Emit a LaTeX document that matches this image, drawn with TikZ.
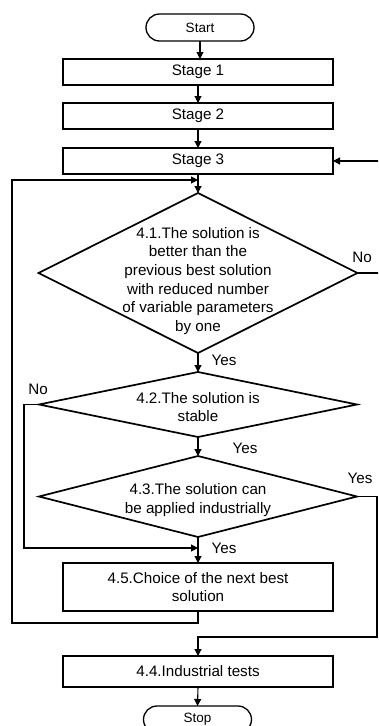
\documentclass[tikz,border=0pt]{standalone}
\usepackage{fontspec}
\setmainfont{Liberation Sans}
\usetikzlibrary{shapes.geometric,shapes.misc,arrows.meta}
\begin{document}
\begin{tikzpicture}[x=1pt,y=-1pt,
  txt/.style={font=\fontsize{15.2}{18.7}\selectfont},
  term/.style={draw, line width=1.3pt, rounded rectangle, minimum width=108pt,
    minimum height=27pt, inner sep=0pt, outer sep=0pt,
    font=\fontsize{13.5}{16}\selectfont},
  stepbox/.style={draw, line width=1.9pt, rectangle, minimum width=270pt,
    inner sep=0pt, outer sep=0pt, align=center, txt},
  decision/.style={draw, line width=1.7pt, diamond, inner sep=0pt, outer sep=0pt},
  flow/.style={line width=1.1pt, -{Triangle[length=7pt,width=7pt]}},
  lbl/.style={txt, inner sep=0pt}
]
\useasboundingbox (0,0) rectangle (378,726);
\clip (0,0) rectangle (378,726);

% terminals and process boxes
\node[term] (start) at (200,27.5) {Start};
\node[stepbox, minimum height=26pt] (s1) at (198,72) {Stage 1};
\node[stepbox, minimum height=26pt] (s2) at (198,116) {Stage 2};
\node[stepbox, minimum height=26pt] (s3) at (198,161) {Stage 3};

% decisions (shape and text kept apart)
\node[decision, minimum width=319pt, minimum height=160pt] (d41) at (198,273) {};
\node[txt, align=center, inner sep=0pt] (t41) at (198,281)
  {4.1.The solution is\\better than the\\previous best solution\\with reduced number\\of variable parameters\\by one};
\node[decision, minimum width=318pt, minimum height=65pt] (d42) at (198,404.5) {};
\node[txt, align=center, inner sep=0pt] (t42) at (198,407)
  {4.2.The solution is\\stable};
\node[decision, minimum width=318pt, minimum height=81pt] (d43) at (198,496.5) {};
\node[txt, align=center, inner sep=0pt] (t43) at (198,500)
  {4.3.The solution can\\be applied industrially};

\node[stepbox, minimum height=48pt] (b45) at (198,587) {4.5.Choice of the next best\\solution};
\node[stepbox, minimum height=31pt] (b44) at (198,671.5) {4.4.Industrial tests};
\node[term] (stop) at (197.5,719.5) {Stop};

% junction points on the main vertical line
\coordinate (j1) at (198,180);
\coordinate (j2) at (198,548);

% main flow
\draw[flow] (start.south) -- (start.south |- s1.north);
\draw[flow] (s1.south) -- (s2.north);
\draw[flow] (s2.south) -- (s3.north);
\draw[flow] (s3.south) -- (d41.north);
\draw[flow] (d41.south) -- (d42.north);
\draw[flow] (d42.south) -- (d43.north);
\draw[flow] (d43.south) -- (b45.north);
\draw[flow] (b44.south) -- (stop.north);

% branches and loops
\draw[flow] (d41.east) -- (392,273) |- (s3.east);
\draw[flow] (d42.west) -- (24,404.5) |- (j2);
\draw[flow] (d43.east) -| (377,637) -| (b44.north);
\draw[flow] (b45.south) -- (198,623) -| (12,180) -- (j1);

% branch labels
\node[lbl] (no1) at (362,257) {No};
\node[lbl] (yes1) at (224,360) {Yes};
\node[lbl] (no2) at (38,389) {No};
\node[lbl] (yes2) at (245,448) {Yes};
\node[lbl] (yes3) at (360,478) {Yes};
\node[lbl] (yes4) at (224,548) {Yes};
\end{tikzpicture}
\end{document}
